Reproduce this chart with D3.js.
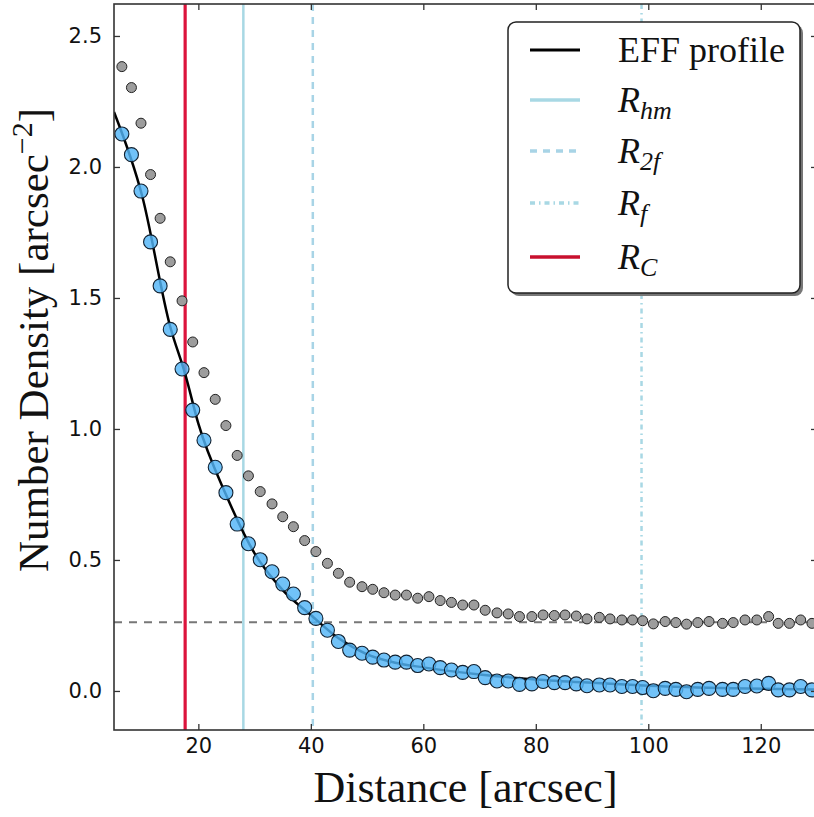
<!DOCTYPE html>
<html>
<head>
<meta charset="utf-8">
<script src="https://cdn.jsdelivr.net/npm/d3@7"></script>
<style>
  body { margin: 0; background: #fff; }
  svg { display: block; }
  .tick text { font-family: "DejaVu Sans", sans-serif; font-size: 21px; fill: #111; }
  .serif { font-family: "Liberation Serif", "DejaVu Serif", serif; fill: #111; }
</style>
</head>
<body>
<div id="chart"></div>
<script>
// radial bins (arcsec), shared by both profiles
const distance = [6.4, 8.1, 9.8, 11.5, 13.2, 15.0, 17.1, 19.0, 21.0, 23.0,
  24.9, 26.9, 28.9, 31.0, 33.1, 35.0, 36.9, 38.9, 40.9, 42.95,
  44.9, 46.9, 49.1, 51.0, 53.0, 55.0, 57.0, 59.0, 61.0, 63.0,
  65.0, 67.0, 69.0, 71.0, 73.1, 75.1, 77.1, 79.3, 81.3, 83.3,
  85.2, 87.2, 89.1, 91.3, 93.2, 95.3, 97.2, 99.0, 100.9, 103.0,
  104.9, 106.8, 108.8, 110.8, 113.2, 115.1, 117.2, 119.3, 121.4, 123.1,
  125.1, 127.1, 129.1];

// raw density (grey)
const densityRaw = [2.383, 2.303, 2.167, 1.971, 1.804, 1.638, 1.489, 1.332, 1.215, 1.113,
  1.013, 0.899, 0.821, 0.761, 0.714, 0.665, 0.627, 0.574, 0.532, 0.487,
  0.449, 0.415, 0.398, 0.388, 0.375, 0.366, 0.366, 0.354, 0.360, 0.345,
  0.338, 0.328, 0.328, 0.308, 0.298, 0.294, 0.284, 0.284, 0.290, 0.288,
  0.290, 0.286, 0.275, 0.281, 0.275, 0.271, 0.271, 0.268, 0.256, 0.265,
  0.261, 0.255, 0.261, 0.265, 0.258, 0.261, 0.271, 0.271, 0.284, 0.258,
  0.258, 0.271, 0.258];

// background subtracted density (blue)
const densitySub = [2.126, 2.047, 1.908, 1.714, 1.546, 1.380, 1.229, 1.072, 0.957, 0.854,
  0.757, 0.637, 0.562, 0.501, 0.455, 0.408, 0.370, 0.318, 0.277, 0.232,
  0.189, 0.156, 0.144, 0.129, 0.118, 0.110, 0.110, 0.097, 0.103, 0.089,
  0.080, 0.071, 0.074, 0.051, 0.038, 0.038, 0.025, 0.027, 0.036, 0.032,
  0.032, 0.027, 0.020, 0.023, 0.023, 0.017, 0.017, 0.013, 0.001, 0.010,
  0.006, -0.003, 0.006, 0.010, 0.006, 0.006, 0.017, 0.019, 0.029, 0.004,
  0.004, 0.017, 0.004];

// EFF fit
const effR = [5, 10, 15, 17.65, 20, 25, 30, 35, 40, 45, 50, 55, 60, 70, 80, 90, 100, 115, 130];
const effD = [2.21, 1.89, 1.39, 1.21, 1.02, 0.745, 0.525, 0.385, 0.29, 0.2, 0.14, 0.108, 0.09, 0.063, 0.044, 0.031, 0.02, 0.01, 0.005];

const background = 0.262;

const radiiNames = ['R_hm', 'R_2f', 'R_f', 'R_C'];
const radiiValues = [28.0, 40.35, 98.8, 17.65];

const xTicks = [20, 40, 60, 80, 100, 120];
const yTicks = [0.0, 0.5, 1.0, 1.5, 2.0, 2.5];

const W = 814;
const H = 817;
const plot = { left: 114, right: 817, top: 4, bottom: 730 };

const svg = d3.select('#chart').append('svg').attr('width', W).attr('height', H);

const x = d3.scaleLinear().domain([5, 130]).range([plot.left, plot.right]);
const y = d3.scaleLinear().domain([-0.149, 2.622]).range([plot.bottom, plot.top]);

svg.append('clipPath').attr('id', 'clip')
  .append('rect')
  .attr('x', plot.left).attr('y', plot.top)
  .attr('width', plot.right - plot.left).attr('height', plot.bottom - plot.top);

const $vis = svg.append('g').attr('clip-path', 'url(#clip)');

// radius line styles
const lineStyle = {
  R_hm: { color: '#a8d8e4', dash: null, width: 2.5 },
  R_2f: { color: '#a8d4e6', dash: '7,6', width: 2.5 },
  R_f: { color: '#a8d8e4', dash: '5,4,1.5,4', width: 2.5 },
  R_C: { color: '#dc143c', dash: null, width: 3.2 },
};

// background level
$vis.append('line')
  .attr('x1', plot.left).attr('x2', plot.right)
  .attr('y1', y(background)).attr('y2', y(background))
  .attr('stroke', '#777').attr('stroke-width', 2).attr('stroke-dasharray', '8,7');

radiiNames.forEach((name, i) => {
  const s = lineStyle[name];
  $vis.append('line')
    .attr('x1', x(radiiValues[i])).attr('x2', x(radiiValues[i]))
    .attr('y1', plot.top).attr('y2', plot.bottom)
    .attr('stroke', s.color).attr('stroke-width', s.width)
    .attr('stroke-dasharray', s.dash);
});

// EFF curve
const line = d3.line()
  .x((d, i) => x(effR[i]))
  .y(d => y(d))
  .curve(d3.curveMonotoneX);

$vis.append('path')
  .attr('d', line(effD))
  .attr('fill', 'none')
  .attr('stroke', '#000')
  .attr('stroke-width', 2.5);

// grey points
$vis.selectAll('.raw')
  .data(densityRaw)
  .join('circle')
  .attr('class', 'raw')
  .attr('cx', (d, i) => x(distance[i]))
  .attr('cy', d => y(d))
  .attr('r', 5)
  .attr('fill', '#9d9d9d')
  .attr('stroke', '#222')
  .attr('stroke-width', 1);

// blue points
$vis.selectAll('.sub')
  .data(densitySub)
  .join('circle')
  .attr('class', 'sub')
  .attr('cx', (d, i) => x(distance[i]))
  .attr('cy', d => y(d))
  .attr('r', 7)
  .attr('fill', '#52b4f7')
  .attr('fill-opacity', 0.82)
  .attr('stroke', '#102030')
  .attr('stroke-width', 1.1);

// axes, ticks point inward on all four sides
const axisColor = '#333';
function styleAxis(g) {
  g.select('.domain').remove();
  g.selectAll('.tick line').attr('stroke', axisColor).attr('stroke-width', 1.3);
}

svg.append('g')
  .attr('transform', `translate(0,${plot.bottom})`)
  .call(d3.axisBottom(x).tickValues(xTicks).tickSize(-6).tickPadding(8).tickFormat(d3.format('d')))
  .call(styleAxis);

svg.append('g')
  .attr('transform', `translate(0,${plot.top})`)
  .call(d3.axisTop(x).tickValues(xTicks).tickSize(-6).tickFormat(''))
  .call(styleAxis);

svg.append('g')
  .attr('transform', `translate(${plot.left},0)`)
  .call(d3.axisLeft(y).tickValues(yTicks).tickSize(-6).tickPadding(12).tickFormat(d3.format('.1f')))
  .call(styleAxis);

svg.append('g')
  .attr('transform', `translate(${plot.right},0)`)
  .call(d3.axisRight(y).tickValues(yTicks).tickSize(-6).tickFormat(''))
  .call(styleAxis);

svg.append('rect')
  .attr('x', plot.left).attr('y', plot.top)
  .attr('width', plot.right - plot.left).attr('height', plot.bottom - plot.top)
  .attr('fill', 'none').attr('stroke', axisColor).attr('stroke-width', 1.6);

// axis labels
svg.append('text')
  .attr('class', 'serif')
  .attr('x', (plot.left + plot.right) / 2)
  .attr('y', 802)
  .attr('text-anchor', 'middle')
  .attr('font-size', 44)
  .text('Distance [arcsec]');

const yLabel = svg.append('text')
  .attr('class', 'serif')
  .attr('transform', 'translate(48,340) rotate(-90)')
  .attr('text-anchor', 'middle')
  .attr('font-size', 43);
yLabel.append('tspan').text('Number Density [arcsec');
yLabel.append('tspan').attr('font-size', 30).attr('dy', -16).text('\u22122');
yLabel.append('tspan').attr('dy', 16).text(']');

// legend
const legend = svg.append('g');
legend.append('rect')
  .attr('x', 511).attr('y', 25).attr('width', 292).attr('height', 271)
  .attr('rx', 8).attr('fill', '#777');
legend.append('rect')
  .attr('x', 508).attr('y', 22).attr('width', 292).attr('height', 271)
  .attr('rx', 8).attr('fill', '#fff').attr('stroke', '#222').attr('stroke-width', 1.5);

const legendRows = [
  { key: 'EFF', color: '#000', dash: null, width: 3 },
  ...radiiNames.map(n => ({ key: n, color: lineStyle[n].color, dash: lineStyle[n].dash, width: 3.5 })),
];
const rowY = [50, 100, 151, 203, 257];

legendRows.forEach((row, i) => {
  const yy = rowY[i];
  legend.append('line')
    .attr('x1', 530).attr('x2', 580).attr('y1', yy).attr('y2', yy)
    .attr('stroke', row.key === 'R_C' ? '#c8102e' : row.color)
    .attr('stroke-width', row.width)
    .attr('stroke-dasharray', row.dash);
  const t = legend.append('text')
    .attr('class', 'serif')
    .attr('x', 618).attr('y', yy + 12)
    .attr('font-size', 36);
  if (row.key === 'EFF') {
    t.text('EFF profile');
  } else {
    const sub = row.key.split('_')[1];
    t.append('tspan').attr('font-style', 'italic').text('R');
    t.append('tspan').attr('font-style', 'italic').attr('font-size', 26).attr('dy', 7).text(sub);
  }
});
</script>
</body>
</html>
